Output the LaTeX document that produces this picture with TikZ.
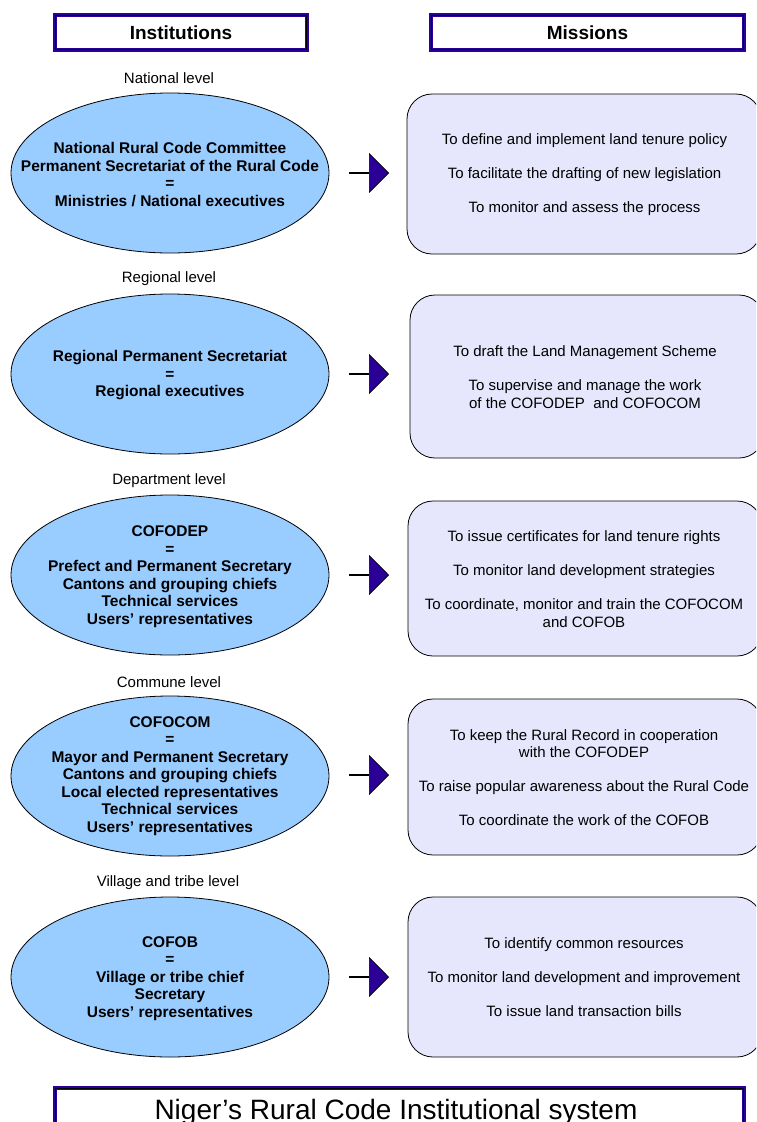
\documentclass[tikz,border=0pt]{standalone}
\usepackage{fontspec}
\setmainfont{Liberation Sans}
\usetikzlibrary{shapes.geometric,arrows.meta}

\definecolor{hdrblue}{RGB}{42,0,150}
\definecolor{ellblue}{RGB}{153,204,255}
\definecolor{boxlav}{RGB}{230,230,252}

\begin{document}
\begin{tikzpicture}[x=1pt,y=-1pt,
    header/.style={draw=hdrblue, line width=4pt, fill=white, inner sep=0pt, font=\fontsize{19}{22}\selectfont\bfseries},
    lvl/.style={font=\fontsize{15}{17.5}\selectfont},
    inst/.style={ellipse, draw, fill=ellblue, line width=0.8pt, minimum width=318, minimum height=160, inner sep=0pt},
    insttxt/.style={align=center, font=\fontsize{15.5}{17.5}\selectfont\bfseries},
    mission/.style={draw, fill=boxlav, line width=0.8pt, rounded corners=25, inner sep=0pt, minimum width=354},
    misstxt/.style={align=center, font=\fontsize{15}{17.5}\selectfont},
    push/.style={line width=1.2pt, -{Triangle[length=20pt,width=40pt,line width=0.6pt,fill=hdrblue]}}] %Niger rural code
        \useasboundingbox (0,0) rectangle (756,1122);
        \clip (0,0) rectangle (756,1122);

        \node[header, minimum width=252, minimum height=35] (hInst) at (181,32.5) {Institutions};
        \node[header, minimum width=313, minimum height=35] (hMiss) at (587.5,32.5) {Missions};
        \draw[line width=0.8pt] ([shift={(2.5,2.5)}]hInst.north west) rectangle ([shift={(-2.5,-2.5)}]hInst.south east);
        \draw[line width=0.8pt] ([shift={(2.5,2.5)}]hMiss.north west) rectangle ([shift={(-2.5,-2.5)}]hMiss.south east);

        \node[lvl] (lNat) at (169,78) {National level};
        \node[lvl] (lReg) at (169,279) {Regional level};
        \node[lvl] (lDep) at (169,481) {Department level};
        \node[lvl] (lCom) at (169,682) {Commune level};
        \node[lvl] (lVil) at (168,883) {Village and tribe level};

        \node[inst] (eNat) at (170,173) {};
        \node[inst] (eReg) at (170,374) {};
        \node[inst] (eDep) at (170,575) {};
        \node[inst] (eCom) at (170,776) {};
        \node[inst] (eVil) at (170,977) {};

        \node[insttxt] (tNat) at (170,174.5) {National Rural Code Committee\\Permanent Secretariat of the Rural Code\\=\\Ministries / National executives};
        \node[insttxt] (tReg) at (170,375.5) {Regional Permanent Secretariat\\=\\Regional executives};
        \node[insttxt] (tDep) at (170,576.5) {COFODEP\\=\\Prefect and Permanent Secretary\\Cantons and grouping chiefs\\Technical services\\Users’ representatives};
        \node[insttxt] (tCom) at (170,776) {COFOCOM\\=\\Mayor and Permanent Secretary\\Cantons and grouping chiefs\\Local elected representatives\\Technical services\\Users’ representatives};
        \node[insttxt] (tVil) at (170,978.5) {COFOB\\=\\Village or tribe chief\\Secretary\\Users’ representatives};

        \node[mission, minimum height=160] (mNat) at (584,174) {};
        \node[mission, minimum height=163] (mReg) at (587,376.5) {};
        \node[mission, minimum height=155] (mDep) at (585,578.5) {};
        \node[mission, minimum height=156] (mCom) at (585,777) {};
        \node[mission, minimum height=160] (mVil) at (585,977) {};

        \node[misstxt] (sNat) at (584.5,175) {To define and implement land tenure policy\\[16.5pt]To facilitate the drafting of new legislation\\[16.5pt]To monitor and assess the process};
        \node[misstxt] (sReg) at (585,377) {To draft the Land Management Scheme\\[16.5pt]To supervise and manage the work\\of the COFODEP\ \ and COFOCOM};
        \node[misstxt] (sDep) at (584,579) {To issue certificates for land tenure rights\\[16.5pt]To monitor land development strategies\\[16.5pt]To coordinate, monitor and train the COFOCOM\\and COFOB};
        \node[misstxt] (sCom) at (584,777.5) {To keep the Rural Record in cooperation\\with the COFODEP\\[16.5pt]To raise popular awareness about the Rural Code\\[16.5pt]To coordinate the work of the COFOB};
        \node[misstxt] (sVil) at (584,977) {To identify common resources\\[16.5pt]To monitor land development and improvement\\[16.5pt]To issue land transaction bills};

        \coordinate (aNat) at (349,173);
        \coordinate (bNat) at (389,173);
        \coordinate (aReg) at (349,374);
        \coordinate (bReg) at (389,374);
        \coordinate (aDep) at (349,575);
        \coordinate (bDep) at (389,575);
        \coordinate (aCom) at (349,775);
        \coordinate (bCom) at (389,775);
        \coordinate (aVil) at (349,977);
        \coordinate (bVil) at (389,977);

        \draw[push] (aNat) -- (bNat);
        \draw[push] (aReg) -- (bReg);
        \draw[push] (aDep) -- (bDep);
        \draw[push] (aCom) -- (bCom);
        \draw[push] (aVil) -- (bVil);

        \node[header, minimum width=689, minimum height=56, font=\normalfont] (hSys) at (399.5,1116) {};
        \draw[line width=0.8pt] ([shift={(2.5,2.5)}]hSys.north west) rectangle ([shift={(-2.5,-2.5)}]hSys.south east);
        \node[anchor=base, font=\fontsize{28}{32}\selectfont] (tSys) at (396,1119) {Niger’s Rural Code Institutional system};
\end{tikzpicture}
\end{document}
